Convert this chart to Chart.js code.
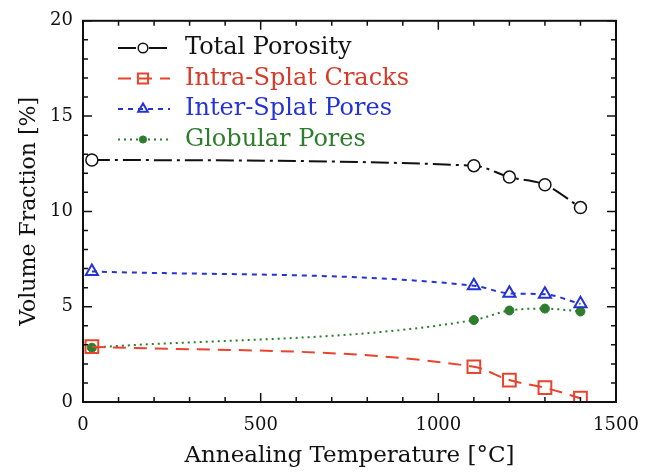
<!DOCTYPE html>
<html>
<head>
<meta charset="utf-8">
<script src="https://cdn.jsdelivr.net/npm/chart.js@4.4.1/dist/chart.umd.min.js"></script>
<style>
  html, body { margin: 0; padding: 0; background: #fff; }
  #wrap { width: 647px; height: 472px; }
</style>
</head>
<body>
<div id="wrap"><canvas id="chart" width="647" height="472"></canvas></div>
<script>
// dados
const temperatures = [25, 1100, 1200, 1300, 1400];
const totalPorosity = [12.7, 12.4, 11.8, 11.4, 10.2];
const intraSplatCracks = [2.9, 1.85, 1.15, 0.75, 0.2];
const interSplatPores = [6.85, 6.1, 5.7, 5.65, 5.15];
const globularPores = [2.85, 4.3, 4.8, 4.9, 4.75];
const seriesLabels = ['Total Porosity', 'Intra-Splat Cracks', 'Inter-Splat Pores', 'Globular Pores'];
const xTicks = [0, 500, 1000, 1500];
const yTicks = [0, 5, 10, 15, 20];

const FONT = "'DejaVu Serif', 'Liberation Serif', serif";
const toPoints = (vals) => vals.map((v, i) => ({ x: temperatures[i], y: v }));

const datasets = [
    {
        label: seriesLabels[0], data: toPoints(totalPorosity),
        borderColor: '#111', borderDash: [18, 5, 3, 5], borderWidth: 2,
        pointStyle: 'circle', pointRadius: 6, pointBorderWidth: 1.5,
        pointBackgroundColor: '#fff', pointBorderColor: '#111',
        textColor: '#111'
    },
    {
        label: seriesLabels[1], data: toPoints(intraSplatCracks),
        borderColor: '#e8432c', borderDash: [13, 8], borderWidth: 2,
        pointStyle: 'rect', pointRadius: 9, pointBorderWidth: 2,
        pointBackgroundColor: 'rgba(255,255,255,0)', pointBorderColor: '#e8432c',
        textColor: '#d83a28'
    },
    {
        label: seriesLabels[2], data: toPoints(interSplatPores),
        borderColor: '#2433d6', borderDash: [5, 5], borderWidth: 2,
        pointStyle: 'triangle', pointRadius: 7, pointBorderWidth: 2,
        pointBackgroundColor: 'rgba(255,255,255,0)', pointBorderColor: '#2433d6',
        textColor: '#2433d6'
    },
    {
        label: seriesLabels[3], data: toPoints(globularPores),
        borderColor: '#2d7d2d', borderDash: [2, 4], borderWidth: 2,
        pointStyle: 'circle', pointRadius: 4.5, pointBorderWidth: 1,
        pointBackgroundColor: '#2d7d2d', pointBorderColor: '#2d7d2d',
        textColor: '#2d7d2d'
    }
];

// moldura com marcas internas em todos os lados
const frameTicks = {
    id: 'frameTicks',
    afterDatasetsDraw(chart) {
        const { ctx, chartArea: a, scales: { x, y } } = chart;
        ctx.save();
        ctx.strokeStyle = '#111';
        ctx.lineWidth = 2;
        ctx.strokeRect(a.left, a.top, a.right - a.left, a.bottom - a.top);
        ctx.lineWidth = 1.5;
        for (let v = 0; v <= 1500; v += 100) {
            const px = x.getPixelForValue(v);
            const len = v % 500 === 0 ? 9 : 5;
            ctx.beginPath();
            ctx.moveTo(px, a.bottom); ctx.lineTo(px, a.bottom - len);
            ctx.moveTo(px, a.top); ctx.lineTo(px, a.top + len);
            ctx.stroke();
        }
        for (let v = 0; v <= 20; v += 1) {
            const py = y.getPixelForValue(v);
            const len = v % 5 === 0 ? 9 : 5;
            ctx.beginPath();
            ctx.moveTo(a.left, py); ctx.lineTo(a.left + len, py);
            ctx.moveTo(a.right, py); ctx.lineTo(a.right - len, py);
            ctx.stroke();
        }
        ctx.restore();
    }
};

// legenda com linha + marcador, como no original
const lineLegend = {
    id: 'lineLegend',
    afterDraw(chart) {
        const { ctx } = chart;
        ctx.save();
        chart.data.datasets.forEach((ds, i) => {
            const yy = 48 + i * 30.5;
            ctx.strokeStyle = ds.borderColor;
            ctx.lineWidth = ds.borderWidth;
            ctx.setLineDash(ds.borderDash);
            ctx.beginPath();
            ctx.moveTo(118, yy); ctx.lineTo(170, yy);
            ctx.stroke();
            ctx.setLineDash([]);
            ctx.fillStyle = ds.pointBackgroundColor;
            ctx.strokeStyle = ds.pointBorderColor;
            ctx.lineWidth = ds.pointBorderWidth;
            Chart.helpers.drawPoint(ctx, { pointStyle: ds.pointStyle, radius: ds.pointRadius * 0.8, borderWidth: ds.pointBorderWidth }, 143, yy);
            ctx.fillStyle = ds.textColor;
            ctx.font = "24px " + FONT;
            ctx.textBaseline = 'middle';
            ctx.fillText(ds.label, 185, yy);
        });
        ctx.restore();
    }
};

new Chart(document.getElementById('chart'), {
    type: 'line',
    data: { datasets },
    options: {
        responsive: false,
        animation: false,
        layout: { padding: { top: 17, right: 31, left: 0, bottom: 0 } },
        elements: { line: { cubicInterpolationMode: 'monotone' } },
        plugins: { legend: { display: false }, tooltip: { enabled: false } },
        scales: {
            x: {
                type: 'linear', min: 0, max: 1500,
                afterFit: (s) => { s.height = 70; },
                afterBuildTicks: (s) => { s.ticks = xTicks.map(v => ({ value: v })); },
                grid: { display: false }, border: { display: false },
                ticks: { color: '#111', font: { family: FONT, size: 18 }, padding: 5, maxRotation: 0,
                         callback: (v) => String(v) },
                title: { display: true, text: 'Annealing Temperature [°C]', color: '#111',
                         font: { family: FONT, size: 23 }, padding: { top: 2, bottom: 2 } }
            },
            y: {
                min: 0, max: 20,
                afterFit: (s) => { s.width = 83; },
                afterBuildTicks: (s) => { s.ticks = yTicks.map(v => ({ value: v })); },
                grid: { display: false, drawTicks: false }, border: { display: false },
                ticks: { color: '#111', font: { family: FONT, size: 18 }, padding: 10,
                         callback: (v) => String(v) },
                title: { display: true, text: 'Volume Fraction [%]', color: '#111',
                         font: { family: FONT, size: 22 }, padding: { top: 16, bottom: 0 } }
            }
        }
    },
    plugins: [frameTicks, lineLegend]
});
</script>
</body>
</html>
